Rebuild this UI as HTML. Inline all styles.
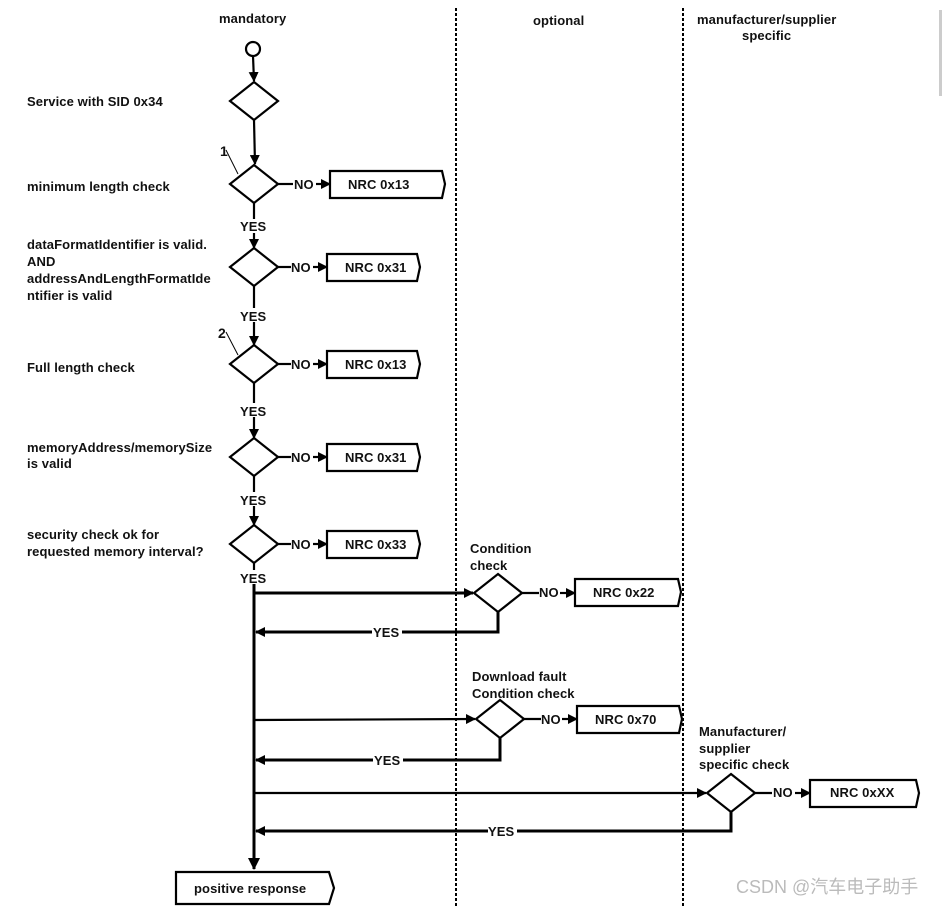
<!DOCTYPE html>
<html><head><meta charset="utf-8"><style>
html,body{margin:0;padding:0;background:#fff;width:943px;height:906px;overflow:hidden}
svg text{font-family:"Liberation Sans",Arial,sans-serif;font-weight:bold;font-size:13px;fill:#111;letter-spacing:0.1px}
</style></head><body>
<svg width="943" height="906" viewBox="0 0 943 906" xmlns="http://www.w3.org/2000/svg">
<defs>
<marker id="a" markerWidth="10" markerHeight="10" refX="9" refY="5" orient="auto" markerUnits="userSpaceOnUse"><path d="M0,0 L10,5 L0,10 z" fill="#000"/></marker>
<marker id="b" markerWidth="12" markerHeight="12" refX="11" refY="6" orient="auto" markerUnits="userSpaceOnUse"><path d="M0,0 L12,6 L0,12 z" fill="#000"/></marker>
</defs>
<line x1="456" y1="8" x2="456" y2="906" stroke="#000" stroke-width="2" stroke-dasharray="3,2"/>
<line x1="683" y1="8" x2="683" y2="906" stroke="#000" stroke-width="2" stroke-dasharray="3,2"/>
<rect x="939" y="10" width="3" height="86" fill="#ccc"/>
<text x="219" y="23">mandatory</text>
<text x="533" y="25">optional</text>
<text x="697" y="24">manufacturer/supplier</text>
<text x="742" y="40">specific</text>

<g stroke="#000" stroke-width="2.2" fill="#fff">
<circle cx="253" cy="49" r="7"/>
<line x1="253" y1="56" x2="254" y2="81" marker-end="url(#a)"/>
<polygon points="254,82 278,101 254,120 230,101"/>
<line x1="254" y1="120" x2="255" y2="164" marker-end="url(#a)"/>
<polygon points="254,165 278,184 254,203 230,184"/>
<line x1="254" y1="203" x2="254" y2="219"/>
<line x1="254" y1="233" x2="254" y2="248" marker-end="url(#a)"/>
<polygon points="254,248 278,267 254,286 230,267"/>
<line x1="254" y1="286" x2="254" y2="308"/>
<line x1="254" y1="322" x2="254" y2="345" marker-end="url(#a)"/>
<polygon points="254,345 278,364 254,383 230,364"/>
<line x1="254" y1="383" x2="254" y2="403"/>
<line x1="254" y1="417" x2="254" y2="438" marker-end="url(#a)"/>
<polygon points="254,438 278,457 254,476 230,457"/>
<line x1="254" y1="476" x2="254" y2="492"/>
<line x1="254" y1="506" x2="254" y2="525" marker-end="url(#a)"/>
<polygon points="254,525 278,544 254,563 230,544"/>
<line x1="254" y1="563" x2="254" y2="570"/>
<line x1="254" y1="584" x2="254" y2="869" stroke-width="3" marker-end="url(#b)"/>
<line x1="278" y1="184" x2="293" y2="184"/><line x1="316" y1="184" x2="330" y2="184" marker-end="url(#a)"/>
<line x1="278" y1="267" x2="291" y2="267"/><line x1="313" y1="267" x2="327" y2="267" marker-end="url(#a)"/>
<line x1="278" y1="364" x2="291" y2="364"/><line x1="313" y1="364" x2="327" y2="364" marker-end="url(#a)"/>
<line x1="278" y1="457" x2="291" y2="457"/><line x1="313" y1="457" x2="327" y2="457" marker-end="url(#a)"/>
<line x1="278" y1="544" x2="291" y2="544"/><line x1="313" y1="544" x2="327" y2="544" marker-end="url(#a)"/>
<polygon points="330,171 442,171 445,184 442,198 330,198"/>
<polygon points="327,254 417,254 420,267 417,281 327,281"/>
<polygon points="327,351 417,351 420,364 417,378 327,378"/>
<polygon points="327,444 417,444 420,457 417,471 327,471"/>
<polygon points="327,531 417,531 420,544 417,558 327,558"/>
<line x1="254" y1="593" x2="473" y2="593" stroke-width="3" marker-end="url(#a)"/>
<polygon points="498,574 522,593 498,612 474,593"/>
<line x1="522" y1="593" x2="539" y2="593"/><line x1="560" y1="593" x2="575" y2="593" marker-end="url(#a)"/>
<polygon points="575,579 678,579 681,592 678,606 575,606"/>
<polyline points="498,612 498,632 372,632" fill="none" stroke-width="3"/>
<line x1="372" y1="632" x2="256" y2="632" stroke-width="3" marker-end="url(#a)"/>
<line x1="254" y1="720" x2="475" y2="719" marker-end="url(#a)"/>
<polygon points="500,700 524,719 500,738 476,719"/>
<line x1="524" y1="719" x2="541" y2="719"/><line x1="562" y1="719" x2="577" y2="719" marker-end="url(#a)"/>
<polygon points="577,706 679,706 682,719 679,733 577,733"/>
<polyline points="500,738 500,760 403,760" fill="none" stroke-width="3"/>
<line x1="373" y1="760" x2="256" y2="760" stroke-width="3" marker-end="url(#a)"/>
<line x1="254" y1="793" x2="706" y2="793" marker-end="url(#a)"/>
<polygon points="731,774 755,793 731,812 707,793"/>
<line x1="755" y1="793" x2="772" y2="793"/><line x1="795" y1="793" x2="810" y2="793" marker-end="url(#a)"/>
<polygon points="810,780 916,780 919,793 916,807 810,807"/>
<polyline points="731,812 731,831 517,831" fill="none" stroke-width="3"/>
<line x1="488" y1="831" x2="256" y2="831" stroke-width="3" marker-end="url(#a)"/>
<polygon points="176,872 329,872 334,888 329,904 176,904"/>
<line x1="226" y1="150" x2="238" y2="174" stroke-width="1"/>
<line x1="226" y1="332" x2="238" y2="355" stroke-width="1"/>
</g>
<rect x="372" y="625" width="30" height="14" fill="#fff"/>

<text x="27" y="106">Service with SID 0x34</text>
<text x="27" y="191">minimum length  check</text>
<text x="27" y="249">dataFormatIdentifier is valid.</text>
<text x="27" y="266">AND</text>
<text x="27" y="283">addressAndLengthFormatIde</text>
<text x="27" y="300">ntifier is valid</text>
<text x="27" y="372">Full length  check</text>
<text x="27" y="452">memoryAddress/memorySize</text>
<text x="27" y="468">is valid</text>
<text x="27" y="539">security check ok for</text>
<text x="27" y="556">requested memory interval?</text>
<text x="220" y="156" style="font-size:14px">1</text>
<text x="218" y="338" style="font-size:14px">2</text>
<text x="240" y="231">YES</text>
<text x="240" y="321">YES</text>
<text x="240" y="416">YES</text>
<text x="240" y="505">YES</text>
<text x="240" y="583">YES</text>
<text x="294" y="189">NO</text>
<text x="291" y="272">NO</text>
<text x="291" y="369">NO</text>
<text x="291" y="462">NO</text>
<text x="291" y="549">NO</text>
<text x="348" y="189">NRC 0x13</text>
<text x="345" y="272">NRC 0x31</text>
<text x="345" y="369">NRC 0x13</text>
<text x="345" y="462">NRC 0x31</text>
<text x="345" y="549">NRC 0x33</text>
<text x="470" y="553">Condition</text>
<text x="470" y="570">check</text>
<text x="539" y="597">NO</text>
<text x="593" y="597">NRC 0x22</text>
<text x="373" y="637">YES</text>
<text x="472" y="681">Download fault</text>
<text x="472" y="698">Condition check</text>
<text x="541" y="724">NO</text>
<text x="595" y="724">NRC 0x70</text>
<text x="374" y="765">YES</text>
<text x="699" y="736">Manufacturer/</text>
<text x="699" y="753">supplier</text>
<text x="699" y="769">specific check</text>
<text x="773" y="797">NO</text>
<text x="830" y="797">NRC 0xXX</text>
<text x="488" y="836">YES</text>
<text x="194" y="893">positive response</text>
<text x="736" y="893" style="font-weight:normal;font-size:18px;letter-spacing:0;fill:#bbb;font-family:'Liberation Sans','Noto Sans CJK SC',sans-serif">CSDN @汽车电子助手</text>
</svg>
</body></html>
